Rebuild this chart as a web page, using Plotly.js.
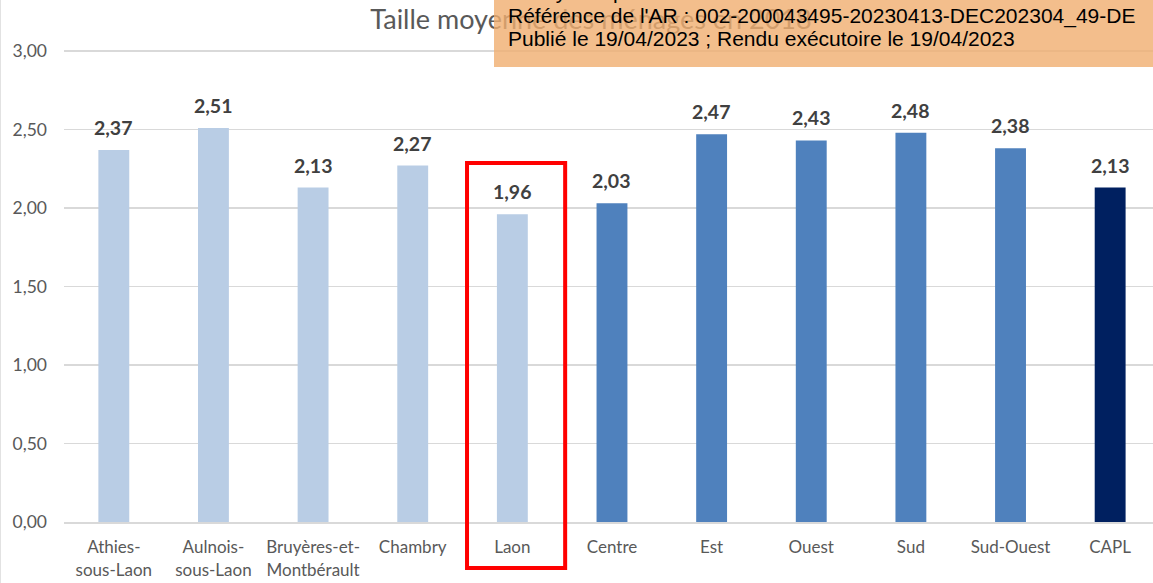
<!DOCTYPE html>
<html>
<head>
<meta charset="utf-8">
<script src="https://cdn.plot.ly/plotly-3.0.1.min.js"></script>
<style>
  html, body { margin: 0; padding: 0; background: #ffffff; }
  #wrap { position: relative; width: 1153px; height: 583px; overflow: hidden; }
  #chart { position: absolute; left: 0; top: 0; width: 1153px; height: 583px; }
  #leftborder { position: absolute; left: 0; top: 0; width: 1px; height: 583px; background: #e2e2e2; }
  #stamp {
    position: absolute; left: 494px; top: 0; width: 659px; height: 67px;
    background: rgba(240,174,111,0.8); overflow: hidden;
    font-family: "Liberation Sans", Arial, sans-serif; font-size: 21px; color: #000;
  }
  #stamp .inner { position: absolute; left: 14px; top: -20px; line-height: 23.5px; white-space: nowrap; }
</style>
</head>
<body>
<div id="wrap">
  <div id="chart"></div>
  <div id="leftborder"></div>
  <div id="stamp"><div class="inner">
    Envoyé en préfecture le 19/04/2023<br>
    Référence de l'AR : 002-200043495-20230413-DEC202304_49-DE<br>
    Publié le 19/04/2023 ; Rendu exécutoire le 19/04/2023
  </div></div>
</div>
<script>
// ---- Data ----
const categories = ['Athies-<br>sous-Laon', 'Aulnois-<br>sous-Laon', 'Bruyères-et-<br>Montbérault', 'Chambry', 'Laon',
                    'Centre', 'Est', 'Ouest', 'Sud', 'Sud-Ouest', 'CAPL'];
const values = [2.37, 2.51, 2.13, 2.27, 1.96, 2.03, 2.47, 2.43, 2.48, 2.38, 2.13];
const groups = ['commune', 'commune', 'commune', 'commune', 'commune',
                'secteur', 'secteur', 'secteur', 'secteur', 'secteur', 'agglo'];
const yTickVals = [0, 0.5, 1, 1.5, 2, 2.5, 3];
const titleText = 'Taille moyenne des ménages en 2018';
const highlighted = 'Laon';

// ---- Styles ----
const groupColors = { commune: '#B9CDE5', secteur: '#4F81BD', agglo: '#002060' };
const fmt = v => v.toFixed(2).replace('.', ',');
const FONT = 'Lato, "Open Sans", sans-serif';

const xMin = -0.5, xMax = 10.43;
const trace = {
  type: 'bar',
  x: categories,
  y: values,
  marker: { color: groups.map(g => groupColors[g]) },
  width: 0.31,
  hoverinfo: 'x+y'
};

const annotations = values.map((v, i) => ({
  x: categories[i], y: v, xref: 'x', yref: 'y',
  text: fmt(v), showarrow: false, yanchor: 'bottom', yshift: 9,
  font: { family: FONT, size: 19.5, color: '#404040', weight: 'bold' }
}));

const hi = categories.indexOf(highlighted);
const span = xMax - xMin;
const shapes = [{
  type: 'rect', xref: 'paper', yref: 'paper', layer: 'above',
  x0: (hi - 0.455 - xMin) / span, x1: (hi + 0.53 - xMin) / span,
  y0: -0.0916, y1: 0.715,
  line: { color: '#FF0000', width: 4 }, fillcolor: 'rgba(0,0,0,0)'
}];

const layout = {
  width: 1153, height: 583,
  margin: { l: 64, r: 0, t: 20, b: 61 },
  paper_bgcolor: '#ffffff', plot_bgcolor: '#ffffff',
  showlegend: false,
  title: {
    text: titleText, xref: 'container', yref: 'container',
    x: 0.5126, y: 0.967, xanchor: 'center', yanchor: 'middle',
    font: { family: FONT, size: 27, color: '#595959' }
  },
  xaxis: {
    type: 'category', range: [xMin, xMax], fixedrange: true,
    showgrid: false, showline: true, linecolor: '#D9D9D9', linewidth: 2,
    ticks: '', ticklabelstandoff: 9,
    tickfont: { family: FONT, size: 17, color: '#595959' }
  },
  yaxis: {
    range: [0, 502 / 157], fixedrange: true,
    tickvals: yTickVals, ticktext: yTickVals.map(fmt),
    showgrid: true, gridcolor: '#D9D9D9', gridwidth: 1.5,
    zeroline: false, showline: false, ticks: '', ticklabelstandoff: 16,
    tickfont: { family: FONT, size: 17.5, color: '#595959' }
  },
  annotations: annotations,
  shapes: shapes
};

Plotly.newPlot('chart', [trace], layout, { displayModeBar: false, staticPlot: true });
</script>
</body>
</html>
